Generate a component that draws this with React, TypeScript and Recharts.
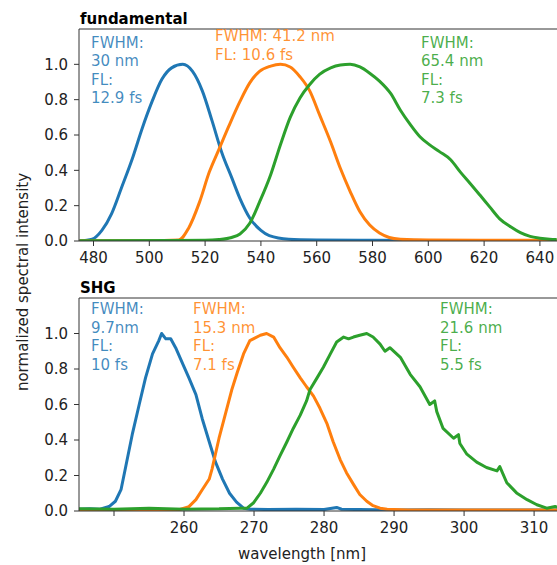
import { LineChart, Line, XAxis, YAxis, ReferenceLine } from 'recharts';

// fundamental spectrum (nm, normalized)
const fundBlueWl = [475, 479.5, 483, 486.5, 490, 494, 497.5, 501, 504.5, 508, 512, 515.5, 519, 522.5, 526, 529.5, 532.5, 536, 540, 543, 550, 560, 580, 600, 620, 646];
const fundBlue = [0.0, 0.01, 0.06, 0.155, 0.3, 0.47, 0.64, 0.79, 0.915, 0.98, 1.0, 0.96, 0.85, 0.68, 0.5, 0.36, 0.24, 0.13, 0.06, 0.03, 0.01, 0.006, 0.004, 0.003, 0.003, 0.003];

const fundOrangeWl = [475, 500, 510.5, 514, 518, 521.5, 525, 528.5, 532.5, 536, 539.5, 543.5, 547, 550.5, 554, 557.5, 561, 565, 568.5, 572, 575.5, 579, 582.5, 586, 590, 600, 620, 646];
const fundOrange = [0.002, 0.002, 0.005, 0.07, 0.22, 0.39, 0.52, 0.65, 0.79, 0.895, 0.96, 0.99, 1.0, 0.985, 0.93, 0.85, 0.715, 0.56, 0.41, 0.28, 0.165, 0.09, 0.045, 0.02, 0.01, 0.005, 0.004, 0.004];

const fundGreenWl = [475, 520, 525, 529.5, 532.5, 536, 539.5, 543.5, 547, 550.5, 554, 557.5, 561, 565, 568.5, 572, 575.5, 579, 582.5, 586.5, 590, 593.5, 597, 600.5, 604, 608, 611.5, 615, 618.5, 622, 625.5, 629.5, 633, 636.5, 640, 643.5, 646];
const fundGreen = [0.002, 0.004, 0.008, 0.02, 0.04, 0.1, 0.22, 0.375, 0.545, 0.7, 0.81, 0.886, 0.943, 0.98, 0.996, 1.0, 0.985, 0.95, 0.905, 0.835, 0.74, 0.66, 0.59, 0.544, 0.506, 0.46, 0.39, 0.326, 0.26, 0.193, 0.127, 0.08, 0.047, 0.026, 0.016, 0.01, 0.008];

// SHG spectrum
const shgBlueWl = [245, 246.5, 248, 249.3, 250.2, 251, 251.7, 252.6, 253.6, 254.5, 255.5, 256.4, 256.8, 257.4, 258.1, 258.8, 259.8, 260.7, 261.7, 262.6, 263.6, 264.5, 265.5, 266.5, 267.5, 268.5, 269.5, 272, 276, 280, 281.8, 282.5, 285, 290, 295, 300, 305, 310, 313.5];
const shgBlue = [0.01, 0.012, 0.01, 0.025, 0.055, 0.12, 0.255, 0.43, 0.6, 0.75, 0.885, 0.96, 1.0, 0.97, 0.97, 0.92, 0.83, 0.75, 0.656, 0.52, 0.39, 0.275, 0.18, 0.1, 0.05, 0.016, 0.01, 0.008, 0.01, 0.008, 0.02, 0.01, 0.008, 0.006, 0.007, 0.006, 0.006, 0.005, 0.005];

const shgOrangeWl = [245, 250, 255, 259.3, 260.7, 261.7, 262.6, 263.6, 264, 265, 266, 266.8, 267.6, 268.5, 269.4, 270.9, 271.8, 272.8, 273.7, 274.7, 275.6, 276.6, 277.5, 278.5, 279.4, 280.4, 281.3, 282.3, 283.2, 284.2, 285.1, 286.1, 287, 288, 289, 292, 296, 300, 305, 310, 313.5];
const shgOrange = [0.005, 0.005, 0.006, 0.008, 0.025, 0.064, 0.12, 0.18, 0.236, 0.41, 0.56, 0.68, 0.78, 0.885, 0.96, 0.99, 1.0, 0.98, 0.92, 0.866, 0.81, 0.75, 0.7, 0.647, 0.58, 0.494, 0.39, 0.29, 0.216, 0.15, 0.093, 0.055, 0.03, 0.016, 0.01, 0.006, 0.005, 0.006, 0.005, 0.006, 0.005];

const shgGreenWl = [245, 250, 255, 260, 265, 268, 269, 269.9, 270.9, 271.8, 272.8, 273.7, 274.7, 275.6, 276.6, 277.5, 278, 279, 279.9, 280.9, 281.8, 282.8, 283.5, 284.2, 285.1, 286.1, 287, 288, 288.7, 289.4, 290.9, 292.3, 293.7, 295.1, 295.8, 296.1, 297, 298.5, 299.2, 299.4, 300.4, 301.8, 303.2, 304.7, 305.1, 306.1, 307.5, 309, 310.4, 311.8, 313, 313.5];
const shgGreen = [0.012, 0.01, 0.015, 0.01, 0.012, 0.016, 0.016, 0.045, 0.1, 0.16, 0.236, 0.31, 0.39, 0.465, 0.54, 0.62, 0.685, 0.75, 0.81, 0.885, 0.952, 0.98, 0.97, 0.98, 0.99, 1.0, 0.98, 0.94, 0.9, 0.92, 0.866, 0.77, 0.7, 0.6, 0.62, 0.56, 0.465, 0.41, 0.43, 0.38, 0.32, 0.275, 0.245, 0.226, 0.25, 0.159, 0.102, 0.064, 0.035, 0.016, 0.025, 0.02];

const fundTicks = [480, 500, 520, 540, 560, 580, 600, 620, 640];
const shgTicks = [250, 260, 270, 280, 290, 300, 310];
const yTicks = [0, 0.2, 0.4, 0.6, 0.8, 1.0];

const BLUE = '#1f77b4';
const ORANGE = '#ff7f0e';
const GREEN = '#2ca02c';
const FONT = '"DejaVu Sans", sans-serif';
const AX = '#333';

const zip = (xs: number[], ys: number[]) => xs.map((x, i) => ({ x, y: ys[i] }));

type Series = { wl: number[]; v: number[]; color: string };

function Panel({ series, domain, ticks, hideTick, marginTop, curve }: {
  series: Series[]; domain: [number, number]; ticks: number[]; hideTick?: number; marginTop: number;
  curve: 'monotone' | 'linear';
}) {
  const tickStyle = { fontSize: 15, fill: '#222', fontFamily: FONT };
  return (
    <LineChart width={600} height={275} margin={{ top: marginTop, right: 40, bottom: 4, left: 0 }}>
      <XAxis
        dataKey="x"
        type="number"
        domain={domain}
        ticks={ticks}
        allowDataOverflow
        height={30}
        tickSize={5}
        tickMargin={6}
        tick={tickStyle}
        stroke={AX}
        tickFormatter={(v: number) => (v === hideTick ? '' : String(v))}
      />
      <YAxis
        type="number"
        domain={[0, 1.2]}
        ticks={yTicks}
        allowDataOverflow
        width={79}
        tickSize={5}
        tickMargin={6}
        tick={tickStyle}
        stroke={AX}
        tickFormatter={(v: number) => v.toFixed(1)}
      />
      <ReferenceLine y={1.2} stroke={AX} strokeWidth={1} />
      {series.map((s, i) => (
        <Line
          key={i}
          data={zip(s.wl, s.v)}
          dataKey="y"
          type={curve}
          stroke={s.color}
          strokeWidth={3}
          strokeLinejoin="round"
          dot={false}
          isAnimationActive={false}
        />
      ))}
    </LineChart>
  );
}

function Note({ x, y, color, lines }: { x: number; y: number; color: string; lines: string[] }) {
  return (
    <text x={x} y={y} fill={color} fillOpacity={0.85} fontSize={15} fontFamily={FONT}>
      {lines.map((l, i) => (
        <tspan key={i} x={x} dy={i === 0 ? 0 : 18.5}>{l}</tspan>
      ))}
    </text>
  );
}

export default function App() {
  return (
    <div style={{ position: 'absolute', left: 0, top: 0, width: 557, height: 565, overflow: 'hidden', background: '#fff' }}>
      <div style={{ position: 'absolute', left: 0, top: 0 }}>
        <Panel
          marginTop={29}
          curve="monotone"
          domain={[474.8, 647.2]}
          ticks={fundTicks}
          series={[
            { wl: fundBlueWl, v: fundBlue, color: BLUE },
            { wl: fundOrangeWl, v: fundOrange, color: ORANGE },
            { wl: fundGreenWl, v: fundGreen, color: GREEN },
          ]}
        />
      </div>
      <div style={{ position: 'absolute', left: 0, top: 270 }}>
        <Panel
          marginTop={28}
          curve="linear"
          domain={[245, 313.7]}
          ticks={shgTicks}
          hideTick={250}
          series={[
            { wl: shgBlueWl, v: shgBlue, color: BLUE },
            { wl: shgOrangeWl, v: shgOrange, color: ORANGE },
            { wl: shgGreenWl, v: shgGreen, color: GREEN },
          ]}
        />
      </div>
      <svg width={557} height={565} style={{ position: 'absolute', left: 0, top: 0, pointerEvents: 'none' }}>
        <text x={80} y={24} fontSize={15} fontWeight="bold" fontFamily={FONT} fill="#000">fundamental</text>
        <text x={80} y={293} fontSize={15} fontWeight="bold" fontFamily={FONT} fill="#000">SHG</text>
        <Note x={91} y={47.5} color={BLUE} lines={['FWHM:', '30 nm', 'FL:', '12.9 fs']} />
        <Note x={215} y={41} color={ORANGE} lines={['FWHM: 41.2 nm', 'FL: 10.6 fs']} />
        <Note x={421} y={47.5} color={GREEN} lines={['FWHM:', '65.4 nm', 'FL:', '7.3 fs']} />
        <Note x={91} y={314} color={BLUE} lines={['FWHM:', '9.7nm', 'FL:', '10 fs']} />
        <Note x={193} y={314} color={ORANGE} lines={['FWHM:', '15.3 nm', 'FL:', '7.1 fs']} />
        <Note x={440} y={314} color={GREEN} lines={['FWHM:', '21.6 nm', 'FL:', '5.5 fs']} />
        <text x={302} y={559} textAnchor="middle" fontSize={15} fontFamily={FONT} fill="#222">wavelength [nm]</text>
        <text transform="translate(28,282) rotate(-90)" textAnchor="middle" fontSize={15} fontFamily={FONT} fill="#222">normalized spectral intensity</text>
      </svg>
    </div>
  );
}
